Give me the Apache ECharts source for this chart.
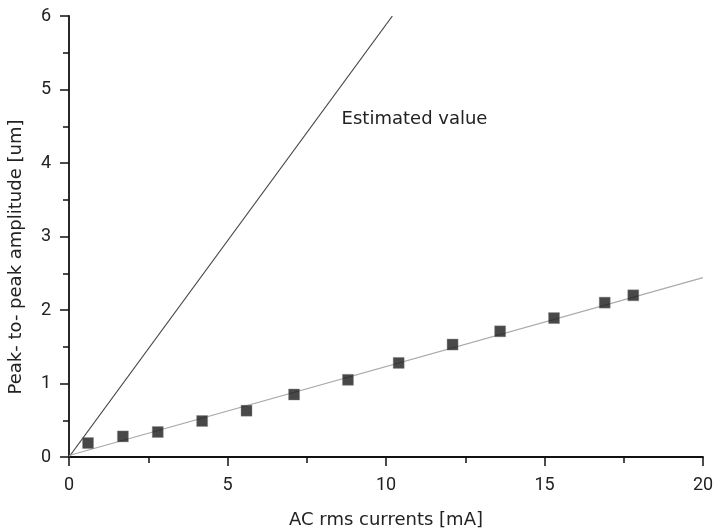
<!DOCTYPE html>
<html>
<head>
    <meta charset="UTF-8">
    <title>Peak-to-peak amplitude vs AC rms current</title>
    <script src="https://cdn.jsdelivr.net/npm/echarts@6/dist/echarts.min.js"></script>
    <style>
        html, body { margin: 0; padding: 0; background: #fff; }
        #chart { width: 716px; height: 530px; }
    </style>
</head>
<body>
    <div id="chart"></div>
    <script>
        // measured points (mA, um)
        const currents = [0.6, 1.7, 2.8, 4.2, 5.6, 7.1, 8.8, 10.4, 12.1, 13.6, 15.3, 16.9, 17.8];
        const amplitudes = [0.19, 0.28, 0.34, 0.49, 0.63, 0.85, 1.05, 1.28, 1.53, 1.71, 1.89, 2.10, 2.20];

        // fitted line end points
        const fitX = [0, 20];
        const fitY = [0.02, 2.44];

        // estimated value line end points
        const estX = [0, 10.2];
        const estY = [0, 6];

        const estLabelAt = [8.6, 4.6];

        const textColor = '#222';
        const font = 'DejaVu Sans, sans-serif';
        const numFont = 'Roboto, sans-serif';

        const chart = echarts.init(document.getElementById('chart'));

        const option = {
            animation: false,
            grid: { left: 69, right: 13, top: 16, bottom: 73, outerBoundsMode: 'none' },
            graphic: [{
                type: 'text',
                x: 16,
                y: 257,
                rotation: Math.PI / 2,
                style: {
                    text: 'Peak- to- peak amplitude [um]',
                    fill: textColor,
                    font: '18px ' + font,
                    align: 'center',
                    verticalAlign: 'middle'
                }
            }],
            xAxis: {
                type: 'value',
                min: 0, max: 20, interval: 5,
                name: 'AC rms currents [mA]',
                nameLocation: 'middle',
                nameGap: 54,
                nameTextStyle: { color: textColor, fontSize: 18, fontFamily: font },
                axisLine: { show: true, lineStyle: { color: '#111', width: 1.8 } },
                axisTick: { show: true, length: 9, lineStyle: { color: '#111', width: 1.5 } },
                minorTick: { show: true, splitNumber: 2, length: 6, lineStyle: { color: '#111', width: 1.5 } },
                axisLabel: { color: textColor, fontSize: 18, fontFamily: numFont, margin: 19 },
                splitLine: { show: false }
            },
            yAxis: {
                type: 'value',
                min: 0, max: 6, interval: 1,
                axisLine: { show: true, lineStyle: { color: '#111', width: 1.8 } },
                axisTick: { show: true, length: 9, lineStyle: { color: '#111', width: 1.5 } },
                minorTick: { show: true, splitNumber: 2, length: 6, lineStyle: { color: '#111', width: 1.5 } },
                axisLabel: { color: textColor, fontSize: 18, fontFamily: numFont, margin: 18 },
                splitLine: { show: false }
            },
            series: [{
                name: 'Estimated value',
                type: 'line',
                data: estX.map((x, i) => [x, estY[i]]),
                symbol: 'none',
                lineStyle: { color: '#444', width: 1.2 },
                markPoint: {
                    symbolSize: 0,
                    data: [{ coord: estLabelAt }],
                    label: {
                        show: true,
                        position: 'right',
                        distance: 0,
                        formatter: 'Estimated value',
                        color: textColor,
                        fontSize: 18,
                        fontFamily: font
                    }
                }
            }, {
                name: 'Fit',
                type: 'line',
                data: fitX.map((x, i) => [x, fitY[i]]),
                symbol: 'none',
                lineStyle: { color: '#aaa', width: 1.2 }
            }, {
                name: 'Measured',
                type: 'scatter',
                data: currents.map((x, i) => [x, amplitudes[i]]),
                symbol: 'rect',
                symbolSize: 11,
                itemStyle: { color: '#1a1a1a', borderColor: '#888', borderWidth: 0.5 },
                z: 5
            }]
        };

        chart.setOption(option);
    </script>
</body>
</html>
